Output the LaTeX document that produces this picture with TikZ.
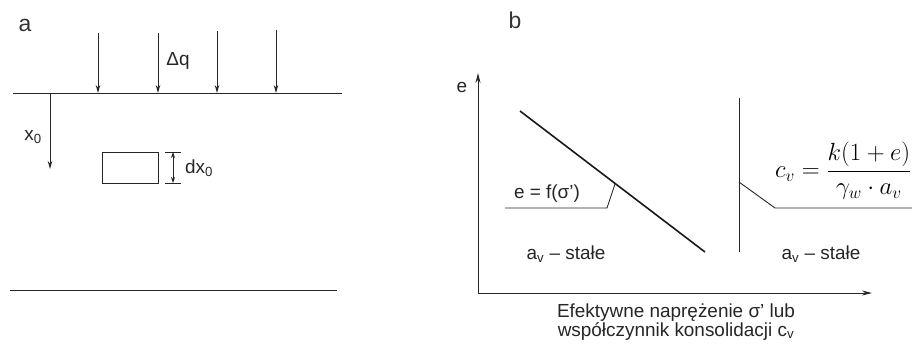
\documentclass[tikz,border=0pt]{standalone}
\usepackage{fontspec}
\setmainfont{Liberation Sans}
\usetikzlibrary{arrows.meta}
\tikzset{
  ln/.style={line width=0.9bp, black!85},
  thick ln/.style={line width=1.6bp, black!90},
  arr/.style={ln, -{Stealth[length=8bp,width=4.5bp]}},
  lbl/.style={inner sep=0pt, font=\fontsize{19}{20}\selectfont, text=black!85},
  big/.style={inner sep=0pt, font=\fontsize{23}{24}\selectfont, text=black!80},
}
\begin{document}
\begin{tikzpicture}[x=1bp,y=-1bp]
\useasboundingbox (0,0) rectangle (912,345);
% ---------- panel a ----------
\node[big] (la) at (25,25) {a};
\coordinate (t1) at (13,93);  \coordinate (t2) at (342,93);
\draw[ln] (t1) -- (t2);
\foreach \i/\x/\y in {1/98/33,2/158/33,3/217/31,4/276/30}{
  \coordinate (qs\i) at (\x,\y);
  \coordinate (qe\i) at (\x,93);
  \draw[arr] (qs\i) -- (qe\i);
}
\node[lbl] (dq) at (178,61) {Δq};
\coordinate (xs) at (50,93); \coordinate (xe) at (50,169);
\draw[arr] (xs) -- (xe);
\node[lbl] (x0) at (33,137) {x\textsubscript{0}};
\node[draw, ln, minimum width=56bp, minimum height=31bp, inner sep=0pt] (elem) at (130,167.5) {};
\coordinate (d1) at (173,152); \coordinate (d2) at (173,183);
\draw[ln] (165,152) -- (181,152);
\draw[ln] (165,183) -- (181,183);
\draw[ln, {Stealth[length=6bp,width=4bp]}-{Stealth[length=6bp,width=4bp]}] (d1) -- (d2);
\node[lbl, anchor=west] (dx) at (185,168) {dx\textsubscript{0}};
\coordinate (b1) at (10,290); \coordinate (b2) at (337,290);
\draw[ln] (b1) -- (b2);
% ---------- panel b ----------
\node[big] (lb) at (515,20) {b};
\coordinate (O) at (478,293);
\coordinate (ytop) at (478,73);
\coordinate (xend) at (872,293);
\draw[ln, -{Stealth[length=10bp,width=5bp]}] (O) -- (ytop);
\draw[ln, -{Stealth[length=10bp,width=5bp]}] (O) -- (xend);
\node[lbl] (e) at (462,87) {e};
% e - sigma line
\coordinate (s1) at (520,111); \coordinate (s2) at (705,252);
\draw[thick ln] (s1) -- (s2);
\coordinate (l1) at (505,208); \coordinate (l2) at (607,208); \coordinate (l3) at (615,184);
\draw[ln] (l1) -- (l2) -- (l3);
\node[lbl] (ef) at (547,194) {e = f(σ')};
% c_v lines
\coordinate (v1) at (739,98); \coordinate (v2) at (739,252);
\draw[ln] (v1) -- (v2);
\coordinate (c1) at (739,182); \coordinate (c2) at (775,208); \coordinate (c3) at (912,208);
\draw[ln] (c1) -- (c2) -- (c3);
\node[inner sep=0pt, anchor=west, font=\fontsize{23}{25}\selectfont] (cv) at (775,171)
  {$\displaystyle c_v=\frac{k\bigl(1+e\bigr)}{\gamma_w\cdot a_v}$};
\node[lbl] (av1) at (566,254) {a\textsubscript{v} – stałe};
\node[lbl] (av2) at (821,254) {a\textsubscript{v} – stałe};
\node[lbl, align=center, font=\fontsize{19}{16}\selectfont] (xl) at (676,322)
  {Efektywne naprężenie σ' lub\\współczynnik konsolidacji c\textsubscript{v}};
\end{tikzpicture}
\end{document}
